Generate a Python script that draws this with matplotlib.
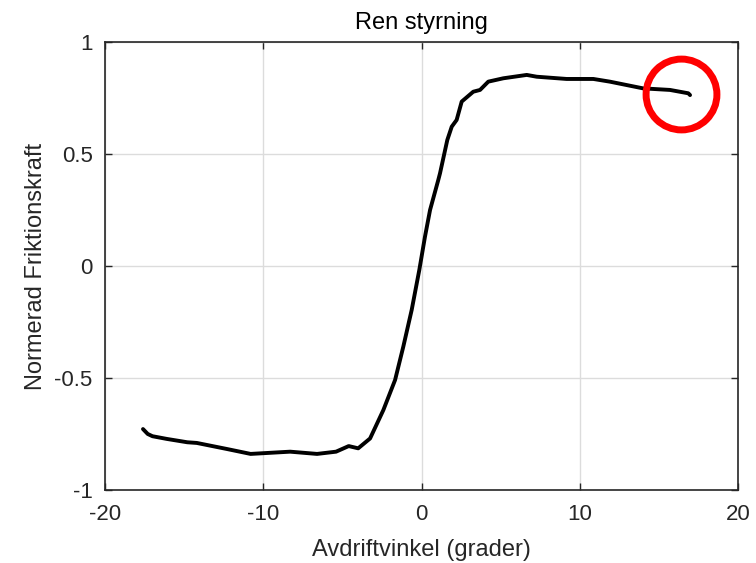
import matplotlib
matplotlib.use("Agg")
import matplotlib.pyplot as plt
import numpy as np

# drift angle (degrees) and normalised friction force
angle = [-17.6, -17.3, -17.0, -16.1, -14.8, -14.2, -12.3, -10.8, -8.3, -6.6,
         -5.4, -4.6, -4.0, -3.25, -2.41, -1.67, -1.15, -0.62, -0.14, 0.22,
         0.54, 1.06, 1.17, 1.63, 1.91, 2.22, 2.54, 3.27, 3.7, 4.22,
         5.17, 6.65, 7.28, 9.17, 10.86, 11.9, 14.0, 15.7, 16.86, 16.97]
force = [-0.728, -0.75, -0.76, -0.772, -0.787, -0.79, -0.817, -0.839, -0.829, -0.839,
         -0.829, -0.804, -0.814, -0.77, -0.643, -0.509, -0.36, -0.196, -0.018, 0.131,
         0.25, 0.384, 0.414, 0.5625, 0.622, 0.652, 0.734, 0.778, 0.786, 0.823,
         0.838, 0.853, 0.845, 0.835, 0.835, 0.823, 0.793, 0.786, 0.771, 0.763]

# highlighted point (red circle)
mark_x = [16.38]
mark_y = [0.77]

plt.rcParams['font.family'] = ['Liberation Sans', 'DejaVu Sans']
plt.rcParams['axes.unicode_minus'] = False

fig = plt.figure(figsize=(7.56, 5.63), dpi=100)
ax = fig.add_axes([0.1389, 0.1297, 0.8373, 0.7957])

ax.plot(angle, force, color='black', linewidth=2.8, solid_capstyle='round',
        solid_joinstyle='round')
ax.plot(mark_x, mark_y, 'o', markersize=51, markerfacecolor='none',
        markeredgecolor='red', markeredgewidth=5)

ax.set_xlim(-20, 20)
ax.set_ylim(-1, 1)
ax.set_xticks([-20, -10, 0, 10, 20])
ax.set_yticks([-1, -0.5, 0, 0.5, 1])
ax.set_yticklabels(['-1', '-0.5', '0', '0.5', '1'])
ax.grid(True, color='#dcdcdc', linewidth=1.0)
ax.set_axisbelow(True)

for s in ax.spines.values():
    s.set_color('#262626')
    s.set_linewidth(1.2)
ax.tick_params(direction='in', length=5, width=1.0, color='#262626',
               labelsize=16, labelcolor='#262626', top=True, right=True)
ax.tick_params(axis='x', pad=10)
ax.tick_params(axis='y', pad=9)

ax.set_title('Ren styrning', fontsize=17, color='black', pad=9)
ax.set_xlabel('Avdriftvinkel (grader)', fontsize=17, color='#262626', labelpad=10)
ax.set_ylabel('Normerad Friktionskraft', fontsize=17, color='#262626', labelpad=5)

fig.savefig('out.png', dpi=100)
